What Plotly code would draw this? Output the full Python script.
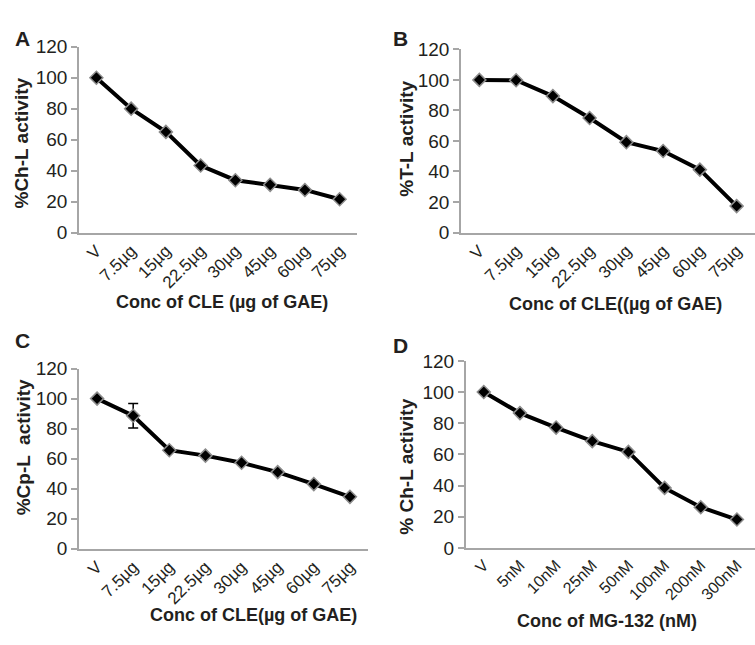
import plotly.graph_objects as go

# ---- data ----
cats_cle = ["V", "7.5µg", "15µg", "22.5µg", "30µg", "45µg", "60µg", "75µg"]
cats_mg = ["V", "5nM", "10nM", "25nM", "50nM", "100nM", "200nM", "300nM"]

chl_cle = [100, 80, 65, 43.3, 33.8, 30.8, 27.5, 21.5]
tl_cle = [100, 99.8, 89.4, 75, 59.2, 53.4, 41.2, 17.3]
cpl_cle = [100, 88.6, 65.6, 62.0, 57.2, 51.0, 43.0, 34.5]
cpl_err = [0, 8.2, 0, 0, 0, 0, 0, 0]
chl_mg = [100, 86.5, 77.2, 68.5, 61.6, 38.5, 26.1, 18.2]

yticks = [0, 20, 40, 60, 80, 100, 120]

W, H = 755, 645
TXT = "#231f20"
AX = "#a6a6a6"
FONT = "Liberation Sans, Arial, sans-serif"

def px_x(a, b):
    return [a / W, b / W]

def px_y(top, bottom):
    return [1 - bottom / H, 1 - top / H]

panels = [
    (cats_cle, chl_cle, None, px_x(79, 357), px_y(38, 230), "A", (22, 29),
     "Conc of CLE (µg of GAE)", (222, 302), "%Ch-L activity", (22, 138), 17),
    (cats_cle, tl_cle, None, px_x(461, 755), px_y(40.7, 230), "B", (400, 29),
     "Conc of CLE((µg of GAE)", (615, 304), "%T-L activity", (407, 133), 17),
    (cats_cle, cpl_cle, cpl_err, px_x(79, 368), px_y(370.7, 556.7), "C", (22, 342),
     "Conc of CLE(µg of GAE)", (253, 625), "%Cp-L  activity", (23, 452), 17),
    (cats_mg, chl_mg, None, px_x(465.7, 755), px_y(362.7, 556), "D", (400, 347),
     "Conc of MG-132 (nM)", (607, 632), "% Ch-L activity", (407, 472), 16),
]

fig = go.Figure()
annotations = []
for i, (cats, vals, errs, xd, yd, letter, lpos, xt, xtp, yt, ytp, xfs) in enumerate(panels):
    n = "" if i == 0 else str(i + 1)
    tr = go.Scatter(
        x=cats, y=vals, mode="lines+markers",
        line=dict(color="black", width=4),
        marker=dict(symbol="diamond", size=10, color="black",
                    line=dict(color="#8c8c8c", width=1.5)),
        xaxis="x" + n, yaxis="y" + n, showlegend=False,
    )
    if errs is not None:
        tr.error_y = dict(type="data", array=errs, visible=True,
                          color="black", thickness=1.5, width=5)
    fig.add_trace(tr)
    fig.layout["xaxis" + n] = dict(
        domain=xd, anchor="y" + n, type="category",
        showline=True, linecolor=AX, linewidth=1.5, ticks="",
        showgrid=False, zeroline=False, tickangle=-45,
        tickfont=dict(size=xfs, color=TXT, family=FONT),
        range=[-0.5, len(cats) - 0.5], fixedrange=True,
    )
    fig.layout["yaxis" + n] = dict(
        domain=yd, anchor="x" + n, range=[0, 120], tickvals=yticks,
        showline=True, linecolor=AX, linewidth=1.5, ticks="outside",
        ticklen=6, tickcolor=AX, tickwidth=1.5,
        showgrid=False, zeroline=False,
        tickfont=dict(size=19, color=TXT, family=FONT), fixedrange=True,
    )
    common = dict(xref="paper", yref="paper", showarrow=False,
                  xanchor="center", yanchor="middle")
    annotations.append(dict(text="<b>%s</b>" % letter, x=lpos[0] / W, y=1 - lpos[1] / H,
                            font=dict(size=21, color=TXT, family=FONT), **common))
    annotations.append(dict(text="<b>%s</b>" % xt, x=xtp[0] / W, y=1 - xtp[1] / H,
                            font=dict(size=18, color=TXT, family=FONT), **common))
    annotations.append(dict(text="<b>%s</b>" % yt, x=ytp[0] / W, y=1 - ytp[1] / H,
                            textangle=-90,
                            font=dict(size=19, color=TXT, family=FONT), **common))

fig.update_layout(
    width=W, height=H, margin=dict(l=0, r=0, t=0, b=0),
    paper_bgcolor="white", plot_bgcolor="white",
    font=dict(family=FONT, color=TXT),
    annotations=annotations,
)

fig.write_html("out.html")
